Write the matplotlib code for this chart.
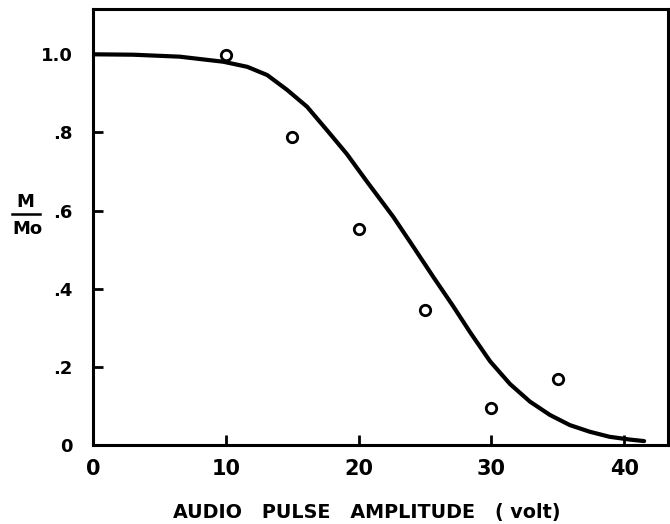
import matplotlib
matplotlib.use("Agg")
import matplotlib.pyplot as plt
from matplotlib.lines import Line2D

# Data
pts_x = [10, 15, 20, 25, 30, 35]
pts_y = [0.998, 0.788, 0.552, 0.346, 0.095, 0.168]

curve_x = [0, 3, 6.5, 9.8, 11.6, 13.1, 14.6, 16.1, 17.6, 19.1, 20.6, 22.6, 24.1,
           25.6, 27.1, 28.4, 29.9, 31.4, 32.9, 34.4, 35.9, 37.4, 38.9, 40.4, 41.5]
curve_y = [1.0, 0.999, 0.994, 0.981, 0.968, 0.947, 0.909, 0.866, 0.806, 0.745, 0.675,
           0.584, 0.508, 0.431, 0.356, 0.288, 0.214, 0.156, 0.111, 0.077, 0.051,
           0.034, 0.021, 0.014, 0.010]

xticks = [0, 10, 20, 30, 40]
xticklabels = ["0", "10", "20", "30", "40"]
yticks = [0, 0.2, 0.4, 0.6, 0.8, 1.0]
yticklabels = ["0", ".2", ".4", ".6", ".8", "1.0"]

W, H = 670, 524
fig = plt.figure(figsize=(W / 100, H / 100), dpi=100)
ax = fig.add_axes([93.3 / W, (H - 445) / H, (668 - 93.3) / W, (445 - 9) / H])

ax.plot(curve_x, curve_y, color="black", lw=3.0, solid_capstyle="round",
        solid_joinstyle="round", zorder=3)
ax.plot(pts_x, pts_y, linestyle="none", marker="o", markersize=7.5,
        markerfacecolor="white", markeredgecolor="black", markeredgewidth=2.0, zorder=4)

ax.set_xlim(0, 43.3)
ax.set_ylim(0, 1.116)

for s in ax.spines.values():
    s.set_linewidth(2.2)

ax.set_xticks(xticks)
ax.set_xticklabels(xticklabels)
ax.set_yticks(yticks)
ax.set_yticklabels(yticklabels)
ax.tick_params(axis="both", direction="in", length=7.5, width=2.0)
ax.tick_params(axis="x", pad=10, labelsize=15)
ax.tick_params(axis="y", pad=15, labelsize=13)
for lab in ax.get_xticklabels() + ax.get_yticklabels():
    lab.set_fontweight("bold")

fig.text(366.5 / W, 1 - 512.5 / H, "AUDIO   PULSE   AMPLITUDE   ( volt)", ha="center",
         va="center", fontsize=13.8, fontweight="bold")

# y-axis label as stacked fraction M / Mo
fig.text(25 / W, 1 - 202 / H, "M", ha="center", va="center", fontsize=13, fontweight="bold")
fig.add_artist(Line2D([12 / W, 40 / W], [1 - 214 / H, 1 - 214 / H], color="black", lw=1.8,
                      transform=fig.transFigure))
fig.text(27 / W, 1 - 228.5 / H, "Mo", ha="center", va="center", fontsize=13, fontweight="bold")

fig.savefig("out.png", dpi=100)
